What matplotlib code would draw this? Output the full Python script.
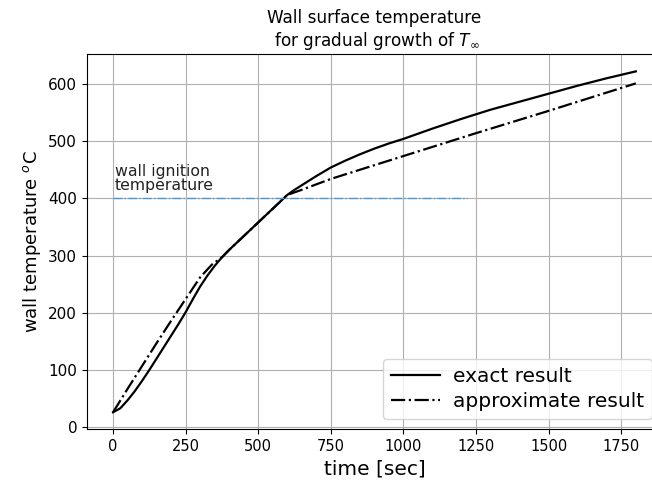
import matplotlib
matplotlib.use("Agg")
import matplotlib.pyplot as plt

# exact result (time [s], temperature [C])
t_exact = [0, 25, 50, 75, 100, 125, 150, 175, 200, 225, 250, 275, 300, 325, 350, 375,
           400, 425, 450, 475, 500, 525, 550, 575, 600, 625, 650, 700, 750, 800, 850,
           900, 950, 1000, 1100, 1200, 1250, 1300, 1400, 1500, 1600, 1700, 1750, 1800]
T_exact = [26, 33, 47, 63, 81, 100, 120, 140, 160, 180, 201, 224, 246, 265, 282, 297,
           310, 322, 334, 346, 358, 370, 382, 394, 406, 415, 423, 439, 454, 466, 477,
           487, 496, 504, 522, 539, 547, 555, 569, 583, 597, 610, 616, 622]

# approximate result
t_approx = [0, 50, 100, 150, 200, 250, 300, 340, 375, 400, 450, 500, 550, 600,
            650, 750, 1000, 1250, 1500, 1800]
T_approx = [26, 67, 107, 147, 186, 224, 262, 284, 297, 310, 334, 358, 382, 406,
            415, 434, 474, 514, 553, 601]

# ignition temperature line
t_ign = [0, 1220]
T_ign = [400, 400]

fig = plt.figure(figsize=(6.52, 4.82), dpi=100)
ax = fig.add_axes([0.1333, 0.1093, 0.882, 0.778])

ax.plot(t_exact, T_exact, color="black", lw=1.6, label="exact result")
ax.plot(t_approx, T_approx, color="black", lw=1.6, ls="-.", label="approximate result")
ax.plot(t_ign, T_ign, color="#4a98d8", lw=1.0, ls="-.")
ax.text(5, 409, "wall ignition\ntemperature", fontsize=11.3, color="#222222",
        ha="left", va="bottom", linespacing=0.95)

ax.grid(True, color="#b0b0b0", lw=0.8)
ax.set_xticks([0, 250, 500, 750, 1000, 1250, 1500, 1750])
ax.set_yticks([0, 100, 200, 300, 400, 500, 600])
ax.tick_params(axis="y", labelsize=11)
ax.tick_params(axis="x", labelsize=10.5)
ax.set_xlabel("time [sec]", fontsize=14.5)
ax.set_ylabel("wall temperature $^o$C", fontsize=13)
ax.set_title("Wall surface temperature\n for gradual growth of $T_\\infty$", fontsize=12.2)
ax.legend(loc="lower right", fontsize=14.5, labelspacing=0.3, handlelength=2.4,
          handletextpad=0.65)

fig.savefig("out.png", dpi=100)
